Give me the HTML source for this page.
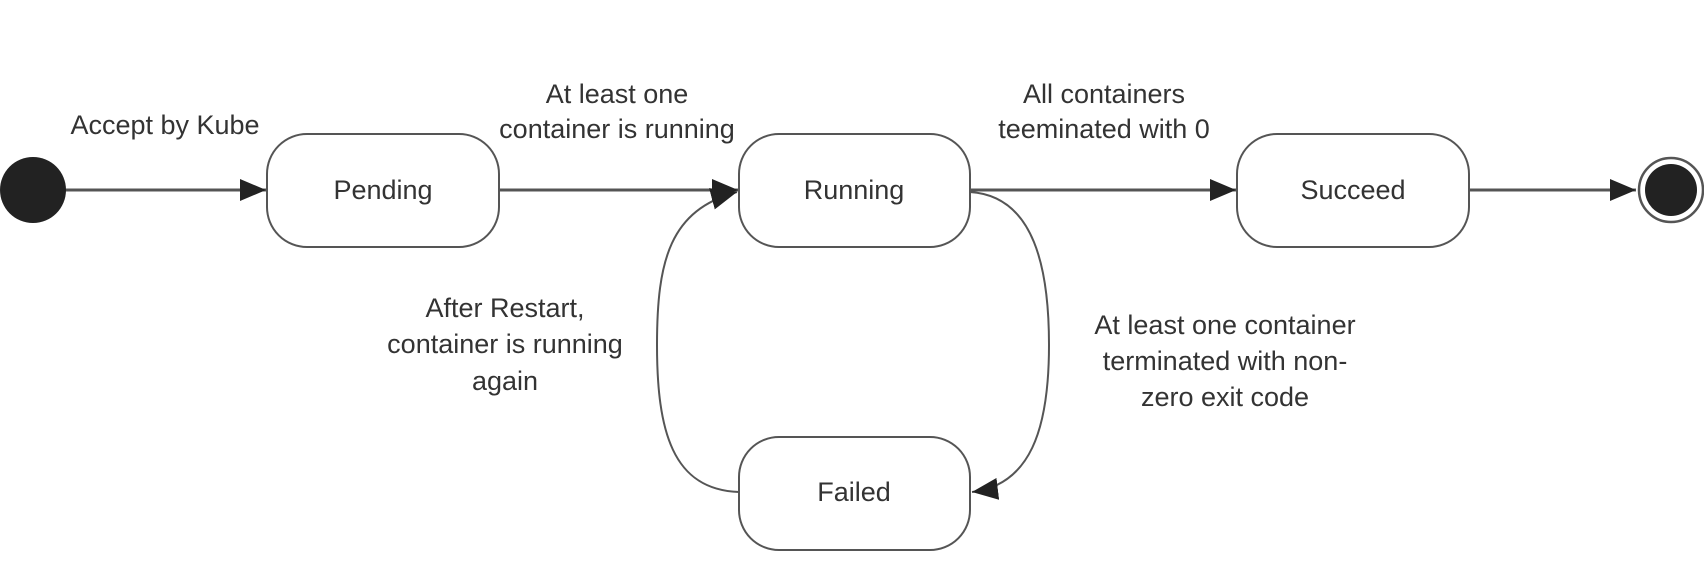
<!DOCTYPE html>
<html><head><meta charset="utf-8"><style>
html,body{margin:0;padding:0;background:#fff;}
svg{display:block}
text{font-family:"Liberation Sans",sans-serif;font-size:27px;fill:#333;text-anchor:middle;dominant-baseline:middle;}
</style></head><body>
<svg width="1704" height="566" viewBox="0 0 1704 566" xmlns="http://www.w3.org/2000/svg">
<defs><marker id="b" markerWidth="26" markerHeight="22" refX="26" refY="11" orient="auto" markerUnits="userSpaceOnUse"><path d="M0,0 L26,11 L0,22 Z" fill="#222"/></marker></defs>
<g stroke="#555" stroke-width="2" fill="none">
<rect x="267" y="134" width="232" height="113" rx="40"/>
<rect x="739" y="134" width="231" height="113" rx="40"/>
<rect x="1237" y="134" width="232" height="113" rx="40"/>
<rect x="739" y="437" width="231" height="113" rx="40"/>
<line x1="64" y1="190" x2="266" y2="190" stroke-width="3" marker-end="url(#b)"/>
<line x1="499" y1="190" x2="738" y2="190" stroke-width="3" marker-end="url(#b)"/>
<line x1="970" y1="190" x2="1236" y2="190" stroke-width="3" marker-end="url(#b)"/>
<line x1="1469" y1="190" x2="1636" y2="190" stroke-width="3" marker-end="url(#b)"/>
<path d="M970,192 C1035,196 1049,270 1049,345 C1049,430 1030,485 972,492" marker-end="url(#b)"/>
<path d="M739,492 C672,490 657,430 657,345 C657,260 670,210 737,192" marker-end="url(#b)"/>
<circle cx="1671" cy="190" r="32" stroke-width="2.5"/>
</g>
<circle cx="33" cy="190" r="33" fill="#222"/>
<circle cx="1671" cy="190" r="26" fill="#222"/>
<text x="383" y="192">Pending</text>
<text x="854" y="192">Running</text>
<text x="1353" y="192">Succeed</text>
<text x="854" y="494">Failed</text>
<text x="165" y="127">Accept by Kube</text>
<text x="617" y="96">At least one</text>
<text x="617" y="131">container is running</text>
<text x="1104" y="96">All containers</text>
<text x="1104" y="131">teeminated with 0</text>
<text x="505" y="310">After Restart,</text>
<text x="505" y="346">container is running</text>
<text x="505" y="383">again</text>
<text x="1225" y="327">At least one container</text>
<text x="1225" y="363">terminated with non-</text>
<text x="1225" y="399">zero exit code</text>
</svg>
</body></html>
